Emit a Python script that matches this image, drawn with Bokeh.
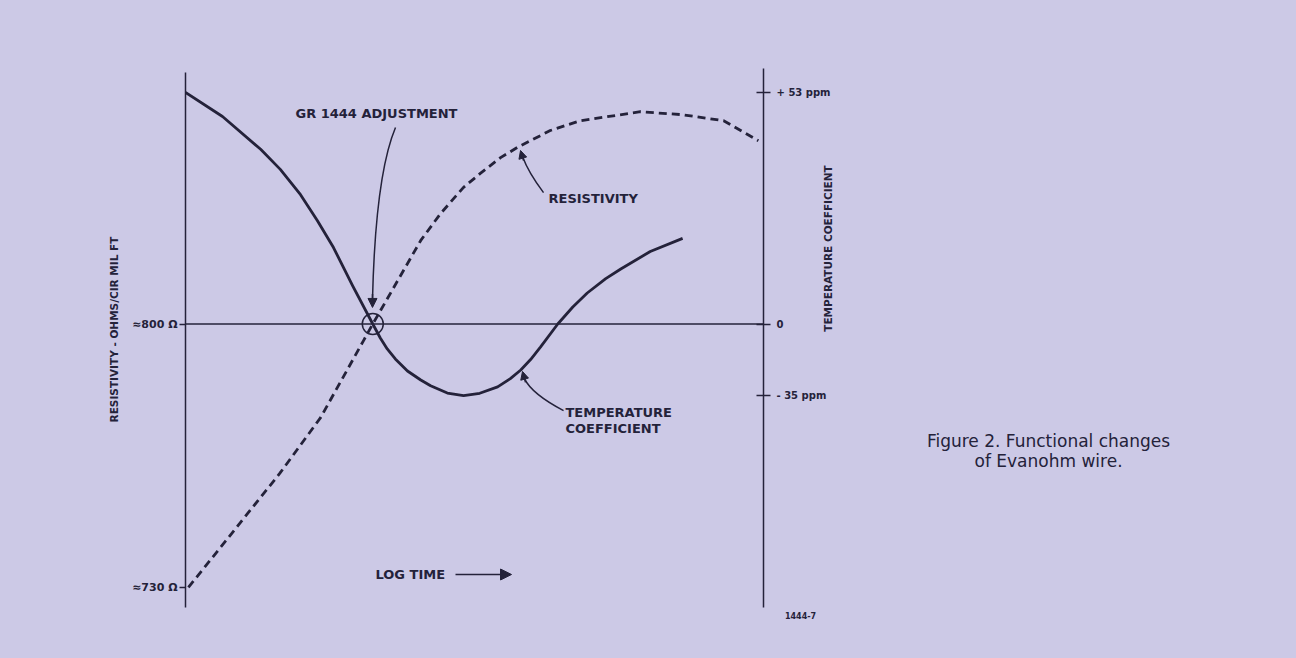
import numpy as np
from bokeh.plotting import figure
from bokeh.models import (Range1d, LinearAxis, FixedTicker, Label, Arrow,
                          NormalHead)
from bokeh.embed import file_html
from bokeh.resources import INLINE

# ---------------- data ----------------
# resistivity curve (dashed), x = log time (arbitrary units, axis 0..10)
res_log_time = [0.05, 1.63, 2.34, 3.08, 3.24, 4.07, 4.41, 4.81, 5.10, 5.45,
                5.74, 6.31, 6.83, 7.87, 8.60, 9.31, 9.91]
resistivity_ohm = [730, 760.3, 775.2, 795.6, 800, 822.2, 829.3, 836.3, 840.0,
                   844.2, 846.9, 851.4, 854.0, 856.4, 855.6, 854.0, 848.7]

# temperature coefficient curve (solid), ppm
tc_log_time = [0, 0.64, 1.30, 1.64, 1.99, 2.28, 2.56, 2.89, 3.24, 3.37, 3.49,
               3.63, 3.84, 4.07, 4.24, 4.53, 4.81, 5.09, 5.40, 5.62, 5.80,
               5.97, 6.14, 6.44, 6.70, 6.95, 7.27, 7.53, 8.04, 8.60]
temp_coeff_ppm = [53, 47.5, 40.0, 35.4, 29.6, 23.7, 17.5, 8.8, 0, -6.85,
                  -12.2, -17.1, -23.0, -27.4, -30.2, -33.8, -35.0, -33.9,
                  -30.8, -26.7, -22.5, -17.4, -11.3, 0, 3.9, 7.1, 10.4, 12.6,
                  16.6, 19.6]

# left axis ticks
res_ticks = [730, 800]
res_tick_labels = ["\u2248730 \u03a9", "\u2248800 \u03a9"]

# right (schematic) axis ticks: ppm values and where the drawing puts them
tc_ticks = [-35, 0, 53]
tc_tick_labels = ["- 35 ppm", "0", "+ 53 ppm"]
tc_tick_levels = [781.0, 800.0, 861.5]   # vertical level of each ppm tick

adjust_log_time = 3.24   # GR 1444 adjustment point
adjust_res = 800

# ---------------- style / layout ----------------
BG = "#ccc9e6"
INK = "#24223a"
FONT = "DejaVu Sans"

X_AXIS_END = 10
X_RANGE = (0, 17.49)
Y_RANGE = (721.23, 875.85)
AXIS_BOTTOM = 724.7
LEFT_AXIS_TOP = 866.8
RIGHT_AXIS_TOP = 867.9

p = figure(width=1296, height=658, x_range=Range1d(*X_RANGE),
           y_range=Range1d(*Y_RANGE), output_backend="svg",
           toolbar_location=None, x_axis_location=None,
           min_border_left=185, min_border_right=100,
           min_border_top=38, min_border_bottom=38,
           background_fill_color=None, border_fill_color=None,
           outline_line_color=None,
           styles={"background-color": BG})
p.grid.visible = False

# left axis
ya = p.yaxis[0]
ya.ticker = FixedTicker(ticks=res_ticks)
ya.major_label_overrides = {t: l for t, l in zip(res_ticks, res_tick_labels)}
ya.bounds = (AXIS_BOTTOM, LEFT_AXIS_TOP)
ya.axis_line_width = 1.5
ya.axis_line_color = INK
ya.major_tick_line_color = INK
ya.major_tick_line_width = 1.5
ya.major_tick_in = 0
ya.major_tick_out = 6
ya.minor_tick_line_color = None
ya.major_label_standoff = 2
ya.major_label_text_font = FONT
ya.major_label_text_font_style = "bold"
ya.major_label_text_font_size = "11px"
ya.major_label_text_color = INK
ya.axis_label = "RESISTIVITY - OHMS/CIR MIL FT"
ya.axis_label_text_font = FONT
ya.axis_label_text_font_style = "bold"
ya.axis_label_text_font_size = "10.5px"
ya.axis_label_text_color = INK
ya.axis_label_standoff = 9

# right axis (temperature coefficient, schematic scale) at the end of log time
tc_pos = [round(v, 2) for v in tc_tick_levels]
ra = LinearAxis(ticker=FixedTicker(ticks=tc_pos),
                major_label_overrides={t: l for t, l in zip(tc_pos, tc_tick_labels)},
                bounds=(AXIS_BOTTOM, RIGHT_AXIS_TOP), fixed_location=X_AXIS_END,
                axis_line_width=1.5, axis_line_color=INK,
                major_tick_line_color=INK, major_tick_line_width=1.5,
                major_tick_in=7, major_tick_out=7,
                minor_tick_line_color=None, major_label_standoff=6,
                major_label_text_font=FONT, major_label_text_font_style="bold",
                major_label_text_font_size="10px", major_label_text_color=INK)
p.add_layout(ra, "right")

# zero / 800 ohm line between the two axes
p.segment(x0=[0], y0=[adjust_res], x1=[X_AXIS_END], y1=[adjust_res],
          line_color=INK, line_width=1.5)

# curves
tc_level = np.interp(temp_coeff_ppm, tc_ticks, tc_tick_levels)
p.line(tc_log_time, tc_level, line_color=INK, line_width=2.8,
       line_join="round")
p.line(res_log_time, resistivity_ohm, line_color=INK, line_width=2.8,
       line_dash="8 5")

# adjustment circle
p.scatter([adjust_log_time], [adjust_res], marker="circle", size=21,
          fill_alpha=0, line_color=INK, line_width=1.5)


def lab(x, y, text, size="13px", align="left", style="bold", angle=0,
        font=FONT, baseline="middle"):
    p.add_layout(Label(x=x, y=y, text=text, text_font=font,
                       text_font_size=size, text_font_style=style,
                       text_color=INK, text_align=align,
                       text_baseline=baseline, angle=angle))


def head(x0, y0, x1, y1, size=8):
    p.add_layout(Arrow(x_start=x0, y_start=y0, x_end=x1, y_end=y1,
                       line_color=INK, line_width=1.5,
                       end=NormalHead(size=size, fill_color=INK,
                                      line_color=INK, line_width=1)))


# GR 1444 adjustment annotation
lab(3.304, 855.9, "GR 1444 ADJUSTMENT", align="center")
p.quadratic(x0=[3.633], y0=[852.2], x1=[3.235], y1=[806.5],
            cx=[3.287], cy=[839.5], line_color=INK, line_width=1.5)
head(3.235, 808.0, 3.235, 804.4, size=9)

# RESISTIVITY annotation
lab(6.28, 833.3, "RESISTIVITY")
p.quadratic(x0=[6.194], y0=[834.9], x1=[5.830], y1=[844.5],
            cx=[5.934], cy=[840.2], line_color=INK, line_width=1.5)
head(5.848, 843.4, 5.796, 846.1, size=8)

# TEMPERATURE COEFFICIENT annotation
lab(6.574, 776.5, "TEMPERATURE")
lab(6.574, 772.2, "COEFFICIENT")
p.quadratic(x0=[6.540], y0=[777.0], x1=[5.865], y1=[785.5],
            cx=[5.986], cy=[781.5], line_color=INK, line_width=1.5)
head(5.882, 784.5, 5.830, 787.4, size=8)

# log time
lab(3.287, 733.45, "LOG TIME")
head(4.671, 733.45, 5.640, 733.45, size=11)

# right axis title
lab(11.107, 820.06, "TEMPERATURE COEFFICIENT", size="10.5px", align="center",
    angle=np.pi / 2)

# figure number
lab(10.64, 722.6, "1444-7", size="8px", align="center")

# caption
lab(14.93, 769.05, "Figure 2. Functional changes", size="17px",
    align="center", style="normal")
lab(14.93, 763.7, "of Evanohm wire.", size="17px", align="center",
    style="normal")

open("out.html", "w").write(file_html(p, INLINE))
